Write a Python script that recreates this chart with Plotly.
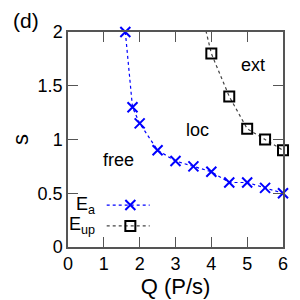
import plotly.graph_objects as go

# Data
q_ea = [1.6, 1.8, 2.0, 2.5, 3.0, 3.5, 4.0, 4.5, 5.0, 5.5, 6.0]
s_ea = [2.0, 1.3, 1.15, 0.9, 0.8, 0.75, 0.7, 0.6, 0.6, 0.55, 0.5]
q_up = [3.5, 4.0, 4.5, 5.0, 5.5, 6.0]
s_up = [2.5, 1.8, 1.4, 1.1, 1.0, 0.9]
x_ticks = [0, 1, 2, 3, 4, 5, 6]
y_ticks = [0, 0.5, 1, 1.5, 2]
y_ticktext = ["0", "0.5", "1", "1.5", "2"]
regions = [("free", 1.4, 0.81), ("loc", 3.6, 1.09), ("ext", 5.15, 1.69)]

FONT = "Liberation Sans, Arial, sans-serif"
BLUE = "#0000ff"
AX = "#555555"

fig = go.Figure()

# Ea
fig.add_trace(go.Scatter(x=q_ea, y=s_ea, mode="lines+markers",
                         line=dict(color=BLUE, dash="dot", width=1.2),
                         marker=dict(symbol="x-thin", size=10, line=dict(color=BLUE, width=2)),
                         cliponaxis=False, showlegend=False))
# Eup line (clipped), markers only in range
fig.add_trace(go.Scatter(x=q_up, y=s_up, mode="lines",
                         line=dict(color="#444444", dash="dot", width=1.2),
                         showlegend=False))
in_q = [q for q, s in zip(q_up, s_up) if s <= 2]
in_s = [s for s in s_up if s <= 2]
fig.add_trace(go.Scatter(x=in_q, y=in_s, mode="markers",
                         marker=dict(symbol="square-open", size=10, color="black",
                                     line=dict(color="black", width=2)),
                         cliponaxis=False, showlegend=False))

# Manual legend samples on an overlay axis (0..1 of plot area)
fig.add_trace(go.Scatter(x=[0.18, 0.38], y=[0.195, 0.195], mode="lines",
                         line=dict(color=BLUE, dash="dot", width=1.2),
                         xaxis="x2", yaxis="y2", showlegend=False))
fig.add_trace(go.Scatter(x=[0.29], y=[0.195], mode="markers",
                         marker=dict(symbol="x-thin", size=10, line=dict(color=BLUE, width=2)),
                         xaxis="x2", yaxis="y2", showlegend=False))
fig.add_trace(go.Scatter(x=[0.18, 0.38], y=[0.098, 0.098], mode="lines",
                         line=dict(color="#444444", dash="dot", width=1.2),
                         xaxis="x2", yaxis="y2", showlegend=False))
fig.add_trace(go.Scatter(x=[0.29], y=[0.098], mode="markers",
                         marker=dict(symbol="square-open", size=10, color="black",
                                     line=dict(color="black", width=2)),
                         xaxis="x2", yaxis="y2", showlegend=False))

annotations = [
    dict(text="E<sub>a</sub>", xref="paper", yref="paper", x=0.135, y=0.195,
         xanchor="right", yanchor="middle", showarrow=False, font=dict(size=18, color="black", family=FONT)),
    dict(text="E<sub>up</sub>", xref="paper", yref="paper", x=0.135, y=0.098,
         xanchor="right", yanchor="middle", showarrow=False, font=dict(size=18, color="black", family=FONT)),
    dict(text="(d)", xref="paper", yref="paper", x=-0.265, y=1.055,
         xanchor="left", yanchor="middle", showarrow=False, font=dict(size=21, color="black", family=FONT)),
]
for txt, x, y in regions:
    annotations.append(dict(text=txt, x=x, y=y, xref="x", yref="y", showarrow=False,
                            font=dict(size=18, color="black", family=FONT)))

fig.update_layout(
    width=292, height=292,
    margin=dict(l=60, r=17, t=24, b=53, autoexpand=False),
    paper_bgcolor="white", plot_bgcolor="white",
    font=dict(family=FONT, size=18, color="black"),
    xaxis=dict(range=[0, 6], tickvals=x_ticks, ticks="inside", ticklen=10, tickcolor=AX,
               showline=True, linecolor=AX, linewidth=1.5, mirror="ticks", showgrid=False,
               zeroline=False, title=dict(text="Q (P/s)", font=dict(size=22), standoff=4),
               tickfont=dict(size=18)),
    yaxis=dict(range=[0, 2], tickvals=y_ticks, ticktext=y_ticktext, ticks="inside", ticklen=10,
               tickcolor=AX, showline=True, linecolor=AX, linewidth=1.5, mirror="ticks",
               showgrid=False, zeroline=False, title=dict(text="s", font=dict(size=22), standoff=10),
               tickfont=dict(size=18)),
    xaxis2=dict(range=[0, 1], overlaying="x", visible=False, fixedrange=True),
    yaxis2=dict(range=[0, 1], overlaying="y", visible=False, fixedrange=True),
    annotations=annotations,
)

fig.write_html("out.html")
